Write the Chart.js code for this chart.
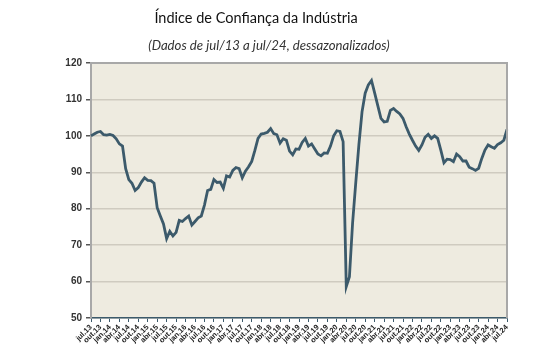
<!DOCTYPE html>
<html>
<head>
<meta charset="utf-8">
<script src="https://cdn.jsdelivr.net/npm/chart.js@4.4.1/dist/chart.umd.min.js"></script>
<style>
  html, body { margin: 0; padding: 0; background: #ffffff; }
  #wrap { position: relative; width: 558px; height: 356px; overflow: hidden; }
  #title { position: absolute; left: 0; width: 512px; top: 9px; text-align: center;
           font-family: Lato, "Open Sans", sans-serif; font-size: 14.5px; color: #111; }
  #subtitle { position: absolute; left: 0; width: 538px; top: 37px; text-align: center;
           font-family: Lato, "Open Sans", sans-serif; font-style: italic; font-size: 13.2px; color: #333; }
  canvas { position: absolute; left: 0; top: 0; }
</style>
</head>
<body>
<div id="wrap">
  <canvas id="c" width="558" height="356"></canvas>
  <div id="title">Índice de Confiança da Indústria</div>
  <div id="subtitle">(Dados de jul/13 a jul/24, dessazonalizados)</div>
</div>
<script>
// Quarterly tick labels (every 3rd month)
const tickLabels = [
  'jul.13','out.13','jan.14','abr.14','jul.14','out.14','jan.15','abr.15','jul.15','out.15',
  'jan.16','abr.16','jul.16','out.16','jan.17','abr.17','jul.17','out.17','jan.18','abr.18',
  'jul.18','out.18','jan.19','abr.19','jul.19','out.19','jan.20','abr.20','jul.20','out.20',
  'jan.21','abr.21','jul.21','out.21','jan.22','abr.22','jul.22','out.22','jan.23','abr.23',
  'jul.23','out.23','jan.24','abr.24','jul.24'
];
const monthNames = ['jan','fev','mar','abr','mai','jun','jul','ago','set','out','nov','dez'];

// Monthly index values, jul/13 .. jul/24 (seasonally adjusted)
const iciValues = [
  100.0,100.5,101.0,101.2,100.3,100.2,100.4,100.1, 99.2, 97.8, 97.2, 91.0,
   88.0, 87.0, 85.0, 85.8, 87.3, 88.5, 87.8, 87.7, 87.0, 80.3, 78.0, 75.8,
   71.8, 73.8, 72.5, 73.5, 76.8, 76.5, 77.3, 78.0, 75.5, 76.5, 77.5, 78.0,
   81.0, 85.0, 85.3, 88.0, 87.2, 87.3, 85.6, 89.0, 88.7, 90.5, 91.3, 91.0,
   88.5, 90.3, 91.5, 93.0, 96.0, 99.3,100.5,100.7,101.0,102.0,100.6,100.3,
   98.0, 99.2, 98.8, 95.8, 94.8, 96.4, 96.3, 98.2, 99.3, 97.2, 97.8, 96.4,
   95.0, 94.5, 95.3, 95.2, 97.2,100.0,101.4,101.2, 98.4, 58.6, 61.3, 76.0,
   87.0, 97.5,106.6,111.7,114.0,115.2,111.8,108.3,104.8,103.8,104.0,107.0,
  107.5,106.7,106.0,104.8,102.5,100.5, 98.8, 97.2, 96.0, 97.5, 99.6,100.4,
   99.3,100.0, 99.3, 96.1, 92.6, 93.6, 93.5, 92.9, 95.0, 94.3, 93.1, 93.1,
   91.4, 91.0, 90.5, 91.1, 93.8, 96.1, 97.5, 97.0, 96.6, 97.6, 98.1, 98.8,
  101.8
];

// Monthly categories built from the start month
const categories = [];
for (let i = 0; i < iciValues.length; i++) {
  const m = (6 + i) % 12;
  const y = 13 + Math.floor((6 + i) / 12);
  categories.push(monthNames[m] + '.' + y);
}

const yTicks = [50, 60, 70, 80, 90, 100, 110, 120];

const plotBg = {
  id: 'plotBg',
  beforeDraw(chart) {
    const { ctx, chartArea: a } = chart;
    ctx.save();
    ctx.fillStyle = '#EEEBE0';
    ctx.fillRect(a.left, a.top, a.right - a.left, a.bottom - a.top);
    ctx.restore();
  },
  afterDraw(chart) {
    const { ctx, chartArea: a } = chart;
    ctx.save();
    ctx.strokeStyle = '#A8A8A8';
    ctx.lineWidth = 2;
    ctx.beginPath();
    ctx.moveTo(a.left, a.top);
    ctx.lineTo(a.right, a.top);
    ctx.lineTo(a.right, a.bottom);
    ctx.stroke();
    ctx.restore();
  }
};

new Chart(document.getElementById('c'), {
  type: 'line',
  data: {
    labels: categories,
    datasets: [{
      data: iciValues,
      borderColor: '#3C5A6B',
      borderWidth: 2.8,
      pointRadius: 0,
      tension: 0,
      fill: false
    }]
  },
  options: {
    responsive: false,
    animation: false,
    layout: { padding: { left: 0, right: 51, top: 63, bottom: 0 } },
    plugins: { legend: { display: false }, tooltip: { enabled: false }, title: { display: false } },
    scales: {
      x: {
        type: 'category',
        offset: false,
        afterFit(scale) { scale.height = 38; },
        grid: {
          drawOnChartArea: false,
          drawTicks: true,
          tickLength: 4,
          color: '#3C5A6B',
          lineWidth: 1
        },
        border: { display: true, color: '#3C5A6B', width: 1.5 },
        ticks: {
          autoSkip: false,
          maxRotation: 45,
          minRotation: 45,
          padding: 1,
          color: '#222',
          font: { family: '"Liberation Sans", Arial, sans-serif', size: 7.5, weight: 'bold' },
          callback(v, i) {
            return i % 3 === 0 ? tickLabels[i / 3] : null;
          }
        }
      },
      y: {
        min: 50,
        max: 120,
        afterFit(scale) { scale.width = 91; },
        afterBuildTicks(scale) { scale.ticks = yTicks.map(v => ({ value: v })); },
        grid: {
          color: '#CFCBC0',
          lineWidth: 1.5,
          tickLength: 5,
          tickColor: '#555'
        },
        border: { display: true, color: '#A8A8A8', width: 2 },
        ticks: {
          padding: 4,
          color: '#333',
          font: { family: '"Liberation Sans", Arial, sans-serif', size: 10, weight: 'bold' }
        }
      }
    }
  },
  plugins: [plotBg]
});
</script>
</body>
</html>
